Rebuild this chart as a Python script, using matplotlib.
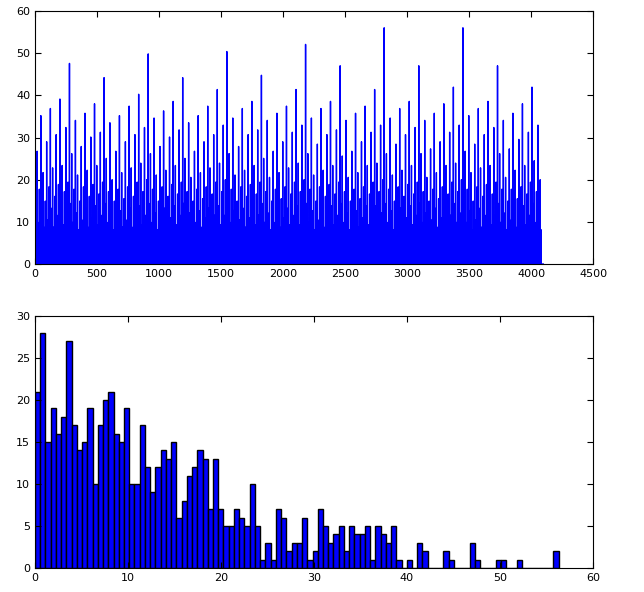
import matplotlib
matplotlib.use("Agg")
import matplotlib.pyplot as plt
import numpy as np
from math import gcd

counts = [21,28,15,19,16,18,27,17,14,15, 19,10,17,20,21,16,15,19,10,10,
          17,12,9,12,14,13,15,6,8,11, 12,14,13,7,13,7,5,5,7,6,
          5,10,5,1,3,1,7,6,2,3, 3,6,1,2,7,5,3,4,5,2,
          5,4,4,5,1,5,4,3,5,1, 0,1,0,3,2,0,0,0,2,1,
          0,0,0,3,1,0,0,0,1,1, 0,0,1,0,0,0,0,0,0,2]
vmax = 56.3
n_points = 4100

edges = np.linspace(0, vmax, len(counts) + 1)
centers = (edges[:-1] + edges[1:]) / 2
values = np.repeat(centers, counts)
# spread the values over the index range in a fixed interleaved order
m = len(values)
stride = int(m * 0.618)
while gcd(stride, m) != 1:
    stride += 1
order = (np.arange(m) * stride) % m
series = np.zeros(n_points)
pos = np.linspace(0, n_points - 20, m).astype(int)
series[pos] = values[order]

fig = plt.figure(figsize=(6.44, 5.92), dpi=100)
ax1 = fig.add_axes([35/644, 1-264/592, 558/644, 253/592])
ax2 = fig.add_axes([35/644, 1-568/592, 558/644, 252/592])

ax1.plot(np.arange(n_points), series, color='b', lw=1)
ax1.set_xlim(0, 4500); ax1.set_ylim(0, 60)
ax2.hist(values, bins=edges, color='b', edgecolor='k', lw=1)
ax2.set_xlim(0, 60); ax2.set_ylim(0, 30)
for ax in (ax1, ax2):
    ax.tick_params(direction='in', top=True, right=True, labelsize=8, length=4)
fig.savefig("out.png", dpi=100)
